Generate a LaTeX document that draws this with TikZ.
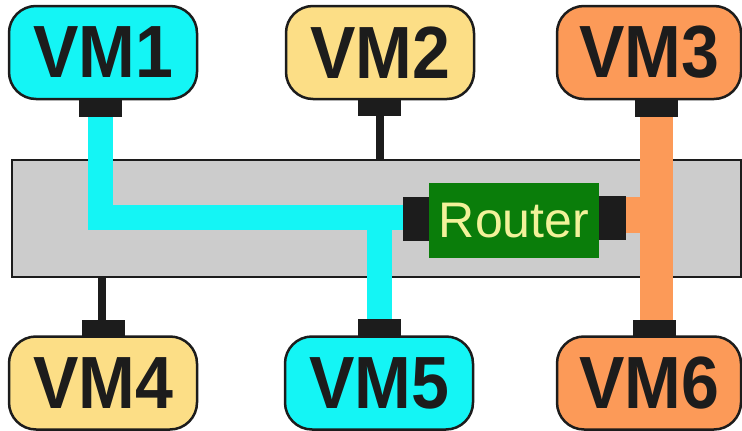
\documentclass[tikz,border=0pt]{standalone}
\usepackage{fontspec}
\setmainfont{Liberation Sans}
\definecolor{vmcyan}{HTML}{14F5F5}
\definecolor{vmyellow}{HTML}{FCDE86}
\definecolor{vmorange}{HTML}{FC9A58}
\definecolor{portblack}{HTML}{1C1C1C}
\definecolor{bargray}{HTML}{CCCCCC}
\definecolor{routergreen}{HTML}{0A7D0A}
\definecolor{routertext}{HTML}{F2F29A}
\begin{document}
\begin{tikzpicture}[x=1pt,y=-1pt,
  vm/.style={draw=portblack, line width=2.5pt, rounded corners=27pt,
    minimum width=188pt, minimum height=93pt, inner sep=0pt, text=portblack,
    font=\fontsize{74}{74}\selectfont\bfseries},
  port/.style={fill=portblack, draw=none, minimum width=43pt, minimum height=17pt, inner sep=0pt},
  rport/.style={fill=portblack, draw=none, minimum width=26pt, minimum height=44pt, inner sep=0pt},
  thinlink/.style={draw=portblack, line width=8pt},
  cyanlink/.style={draw=vmcyan, line width=25pt},
  orangelink/.style={draw=vmorange, line width=33pt}
]
\useasboundingbox (0,0) rectangle (742,431);
% bar
\node[draw=portblack, line width=1.5pt, fill=bargray, minimum width=729pt, minimum height=117pt, inner sep=0pt] (bar) at (376.5,218.5) {};
% VMs
\node[vm, fill=vmcyan] (vm1) at (103,52.5) {\scalebox{0.92}[1]{VM1}};
\node[vm, fill=vmyellow] (vm2) at (380,52.5) {\scalebox{0.92}[1]{VM2}};
\node[vm, fill=vmorange, minimum width=184pt] (vm3) at (649,52.5) {\scalebox{0.92}[1]{VM3}};
\node[vm, fill=vmyellow] (vm4) at (103,383) {\scalebox{0.92}[1]{VM4}};
\node[vm, fill=vmcyan] (vm5) at (379,383) {\scalebox{0.92}[1]{VM5}};
\node[vm, fill=vmorange, minimum width=184pt] (vm6) at (649,383) {\scalebox{0.92}[1]{VM6}};
% router
\node[fill=routergreen, minimum width=170pt, minimum height=75pt, inner sep=0pt,
  text=routertext, font=\fontsize{50}{50}\selectfont] (router) at (514,220.5) {Router};
% links (drawn before ports)
\coordinate (c1) at (100.5,117);
\coordinate (c5) at (379,318.5);
\coordinate (c3) at (656,117);
\coordinate (c6) at (656,320.5);
\coordinate (c2) at (379.5,116);
\coordinate (c4) at (102,320.5);
\coordinate (rlw) at (404,217.5);
\coordinate (rre) at (625,215);
\draw[thinlink] (c2) -- (c2 |- bar.north);
\draw[thinlink] (c4) -- (c4 |- bar.south);
\draw[cyanlink] (c1) |- (rlw);
\draw[cyanlink] (c5) -- (c5 |- rlw);
\draw[orangelink] (c3) -- (c6);
\draw[draw=vmorange, line width=36pt] (rre) -- (rre -| c3);
% ports
\node[port] (p1) at (100.5,108.5) {};
\node[port] (p2) at (379.5,107.5) {};
\node[port] (p3) at (656,108.5) {};
\node[port] (p4) at (103,328.5) {};
\node[port] (p5) at (379,327.5) {};
\node[port] (p6) at (654,328.5) {};
\node[rport] (rl) at (416,219) {};
\node[rport, minimum width=27pt] (rr) at (612.5,218) {};
\end{tikzpicture}
\end{document}
